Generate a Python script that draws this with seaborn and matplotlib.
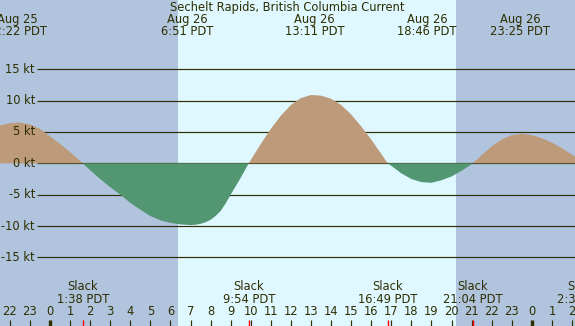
import matplotlib
matplotlib.use("Agg")
import matplotlib.pyplot as plt
import numpy as np
import seaborn as sns

# hours relative to Aug 26 00:00 PDT, current speed in knots
hours = [-2.5, -2.0, -1.5, -1.0, -0.5, 0.0, 0.5, 1.0, 1.5, 1.63, 2.0, 2.5, 3.0,
         3.5, 4.0, 4.5, 5.0, 5.5, 6.0, 6.5, 7.0, 7.25, 7.5, 7.75, 8.0, 8.25,
         8.5, 8.75, 9.0, 9.5, 9.9,
         10.0, 10.5, 11.0, 11.5, 12.0, 12.5, 13.0, 13.5, 14.0, 14.5, 15.0,
         15.5, 16.0, 16.5, 16.82, 17.0, 17.5, 18.0, 18.5, 19.0, 19.5, 20.0,
         20.5, 21.07, 21.5, 22.0, 22.5, 23.0, 23.5, 24.0, 24.5, 25.0, 25.5,
         26.0, 26.2]
speed = [6.0, 6.4, 6.5, 6.2, 5.5, 4.3, 3.1, 1.8, 0.4, 0.0, -1.1, -2.5, -3.8,
         -5.0, -6.3, -7.4, -8.4, -9.1, -9.5, -9.75, -9.85, -9.8, -9.65, -9.4,
         -9.0, -8.4, -7.6, -6.4, -5.0, -2.3, 0.0, 0.5, 3.1, 5.5, 7.6, 9.3,
         10.4, 10.9, 10.8, 10.3,
         9.3, 7.8, 5.9, 3.8, 1.5, 0.0, -0.4, -1.6, -2.5, -3.0, -3.1, -2.7,
         -2.1, -1.2, 0.0, 1.3, 2.7, 3.8, 4.5, 4.7, 4.5, 4.0, 3.3, 2.4, 1.4, 1.0]

peak_hours = [-1.63, 6.85, 13.18, 18.77, 23.42]
peak_days = ["Aug 25", "Aug 26", "Aug 26", "Aug 26", "Aug 26"]
peak_times = ["22:22 PDT", "6:51 PDT", "13:11 PDT", "18:46 PDT", "23:25 PDT"]

slack_hours = [1.63, 9.9, 16.82, 21.07, 26.55]
slack_times = ["1:38 PDT", "9:54 PDT", "16:49 PDT", "21:04 PDT", "2:33 PDT"]

sunrise, sunset = 6.37, 20.22
kt_levels = [15, 10, 5, 0, -5, -10, -15]
hour_ticks = list(range(-2, 27))

NIGHT = "#b0c4de"
DAY = "#dff7ff"
FLOOD = "#bd9a7a"
EBB = "#529672"
INK = "#2e2e00"

sns.set_style("white")
plt.rcParams["font.family"] = ["DejaVu Sans"]

fig = plt.figure(figsize=(5.75, 3.26), dpi=100)
ax = fig.add_axes([0, 0, 1, 1])
x0, x1 = -2.49, 26.15
ax.set_xlim(x0, x1)
ax.set_ylim(-25.95, 26.05)
ax.axis("off")

# night / day background
ax.axvspan(x0, sunrise, color=NIGHT, lw=0, zorder=0)
ax.axvspan(sunrise, sunset, color=DAY, lw=0, zorder=0)
ax.axvspan(sunset, x1, color=NIGHT, lw=0, zorder=0)

ax.hlines(kt_levels, -0.65, x1, colors=INK, lw=0.85, zorder=1)
for v in kt_levels:
    ax.text(-0.75, v, f"{v} kt", ha="right", va="center", fontsize=8.3,
            color=INK, zorder=3)

h = np.array(hours)
s = np.array(speed)
ax.fill_between(h, 0, s, where=s >= 0, interpolate=True, color=FLOOD, lw=0, zorder=2)
ax.fill_between(h, 0, s, where=s <= 0, interpolate=True, color=EBB, lw=0, zorder=2)
sns.lineplot(x=h[s >= 0], y=s[s >= 0], ax=ax, lw=0, legend=False)

tr = ax.get_xaxis_transform()
fs = 8.3
ax.text(11.8, 1 - 7 / 326, "Sechelt Rapids, British Columbia Current",
        transform=tr, ha="center", va="center", fontsize=fs, color=INK)
for ph, d, t in zip(peak_hours, peak_days, peak_times):
    ax.text(ph, 1 - 19.5 / 326, d, transform=tr, ha="center", va="center",
            fontsize=fs, color=INK)
    ax.text(ph, 1 - 31.5 / 326, t, transform=tr, ha="center", va="center",
            fontsize=fs, color=INK)
for sh, t in zip(slack_hours, slack_times):
    ax.text(sh, 1 - 287 / 326, "Slack", transform=tr, ha="center", va="center",
            fontsize=fs, color=INK)
    ax.text(sh, 1 - 299.5 / 326, t, transform=tr, ha="center", va="center",
            fontsize=fs, color=INK)
    ax.vlines(sh, 0, 6 / 326, transform=tr, colors="red", lw=1.0, zorder=4)

# hour ruler along the bottom
for hr in hour_ticks:
    ax.text(hr, 1 - 311.5 / 326, str(hr % 24), transform=tr, ha="center",
            va="center", fontsize=fs, color=INK)
    ax.vlines(hr, 0, 6 / 326, transform=tr, colors=INK,
              lw=2.4 if hr % 24 == 0 else 0.85, zorder=3)

fig.savefig("out.png", dpi=100)
